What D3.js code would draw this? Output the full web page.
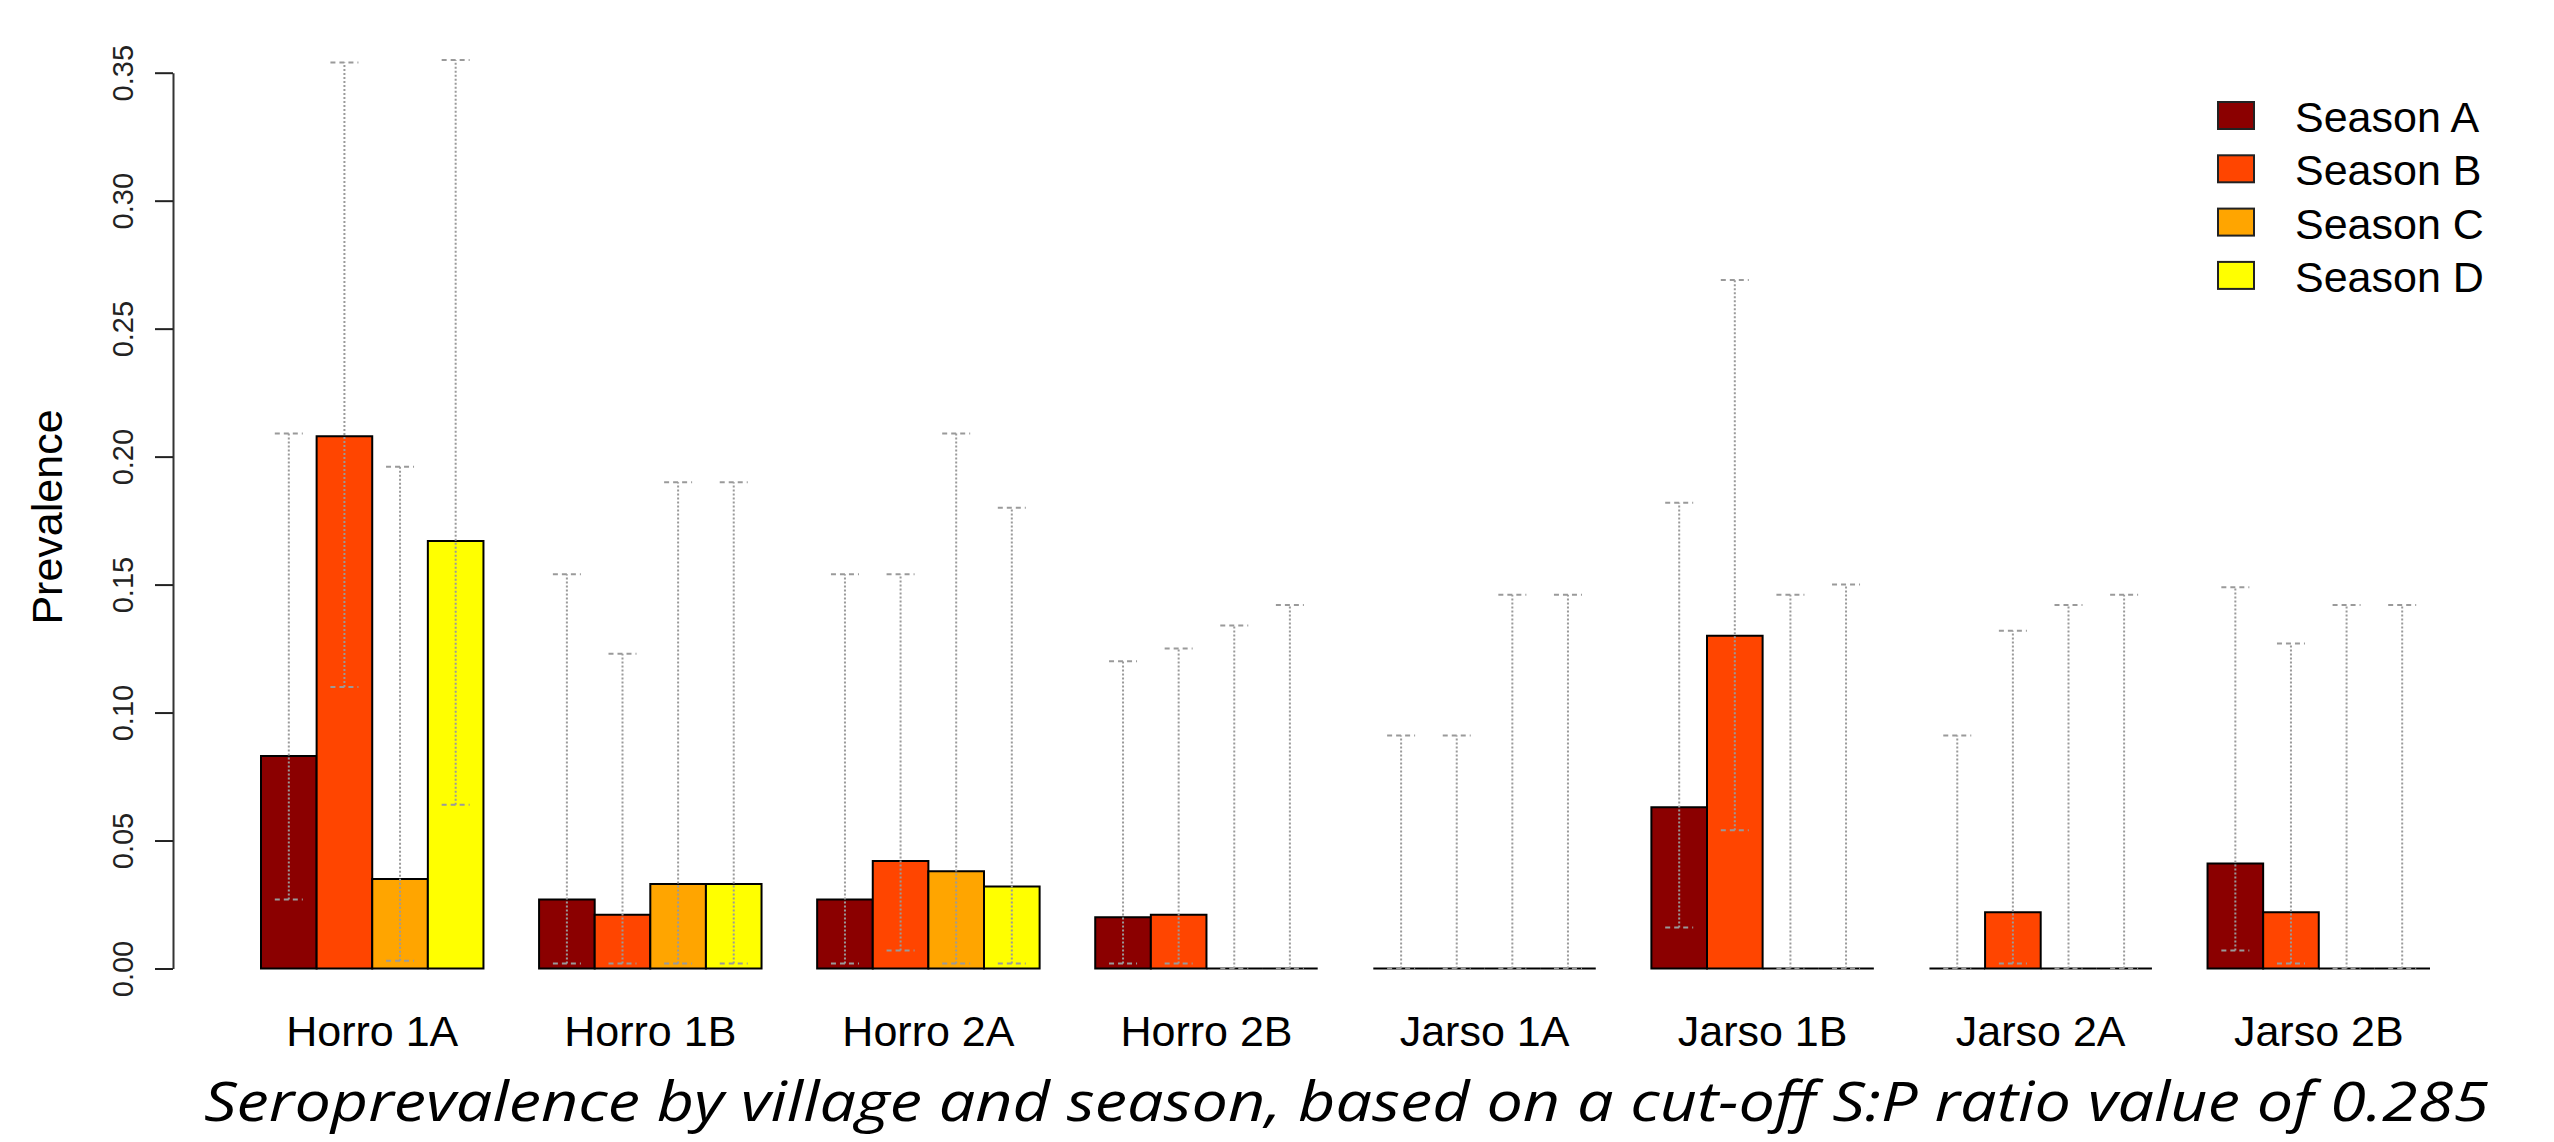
<!DOCTYPE html>
<html>
<head>
<meta charset="utf-8">
<script src="https://cdn.jsdelivr.net/npm/d3@7"></script>
<style>
  html, body { margin: 0; padding: 0; background: #ffffff; }
  svg { display: block; }
</style>
</head>
<body>
<svg id="chart" width="2554" height="1142"></svg>
<script>
// Villages (groups) and seasons (bars within each group)
const categories = ["Horro 1A", "Horro 1B", "Horro 2A", "Horro 2B", "Jarso 1A", "Jarso 1B", "Jarso 2A", "Jarso 2B"];
const seasons = ["Season A", "Season B", "Season C", "Season D"];
const seasonColors = ["#8B0000", "#FF4500", "#FFA500", "#FFFF00"];

// Seroprevalence per season, one entry per village
const prevA = [0.083, 0.027, 0.027, 0.020, 0, 0.063, 0, 0.041];
const prevB = [0.208, 0.021, 0.042, 0.021, 0, 0.130, 0.022, 0.022];
const prevC = [0.035, 0.033, 0.038, 0, 0, 0, 0, 0];
const prevD = [0.167, 0.033, 0.032, 0, 0, 0, 0, 0];

// 95% confidence limits
const lowerA = [0.027, 0.002, 0.002, 0.002, 0, 0.016, 0, 0.007];
const lowerB = [0.110, 0.002, 0.007, 0.002, 0, 0.054, 0.002, 0.002];
const lowerC = [0.003, 0.002, 0.002, 0, 0, 0, 0, 0];
const lowerD = [0.064, 0.002, 0.002, 0, 0, 0, 0, 0];
const upperA = [0.209, 0.154, 0.154, 0.120, 0.091, 0.182, 0.091, 0.149];
const upperB = [0.354, 0.123, 0.154, 0.125, 0.091, 0.269, 0.132, 0.127];
const upperC = [0.196, 0.190, 0.209, 0.134, 0.146, 0.146, 0.142, 0.142];
const upperD = [0.355, 0.190, 0.180, 0.142, 0.146, 0.150, 0.146, 0.142];

const yTicks = [0, 0.05, 0.10, 0.15, 0.20, 0.25, 0.30, 0.35];
const yLabel = "Prevalence";
const caption = "Seroprevalence by village and season, based on a cut-off S:P ratio value of 0.285";

const prevBySeason = [prevA, prevB, prevC, prevD];
const lowerBySeason = [lowerA, lowerB, lowerC, lowerD];
const upperBySeason = [upperA, upperB, upperC, upperD];

const rows = [];
categories.forEach((cat, i) => {
  seasons.forEach((s, j) => {
    rows.push({
      cat, season: s, si: j,
      value: prevBySeason[j][i],
      lo: lowerBySeason[j][i],
      hi: upperBySeason[j][i]
    });
  });
});

const svg = d3.select("#chart");
const font = "'Liberation Sans', Arial, sans-serif";

// Scales
const x0 = d3.scaleBand().domain(categories).range([261, 2430]).paddingInner(0.2).paddingOuter(0);
const x1 = d3.scaleBand().domain(seasons).range([0, x0.bandwidth()]).padding(0);
const y = d3.scaleLinear().domain([0, 0.35]).range([968.5, 72.7]);
const color = d3.scaleOrdinal().domain(seasons).range(seasonColors);

// Bars (drawn as closed paths so zero-height bars still show their outline)
svg.append("g")
  .selectAll("path.bar")
  .data(rows)
  .join("path")
  .attr("class", "bar")
  .attr("d", d => {
    const bx = x0(d.cat) + x1(d.season);
    const w = x1.bandwidth();
    const top = y(d.value), base = y(0);
    return `M${bx},${base}L${bx + w},${base}L${bx + w},${top}L${bx},${top}Z`;
  })
  .attr("fill", d => color(d.season))
  .attr("stroke", "#000")
  .attr("stroke-width", 2)
  .attr("stroke-linejoin", "miter");

// Confidence interval whiskers
const capHalf = 14;
const ci = svg.append("g").attr("stroke", "#9a9a9a").attr("stroke-width", 2).attr("fill", "none");
const cx = d => x0(d.cat) + x1(d.season) + x1.bandwidth() / 2;
ci.selectAll("line.stem")
  .data(rows)
  .join("line")
  .attr("class", "stem")
  .attr("x1", cx).attr("x2", cx)
  .attr("y1", d => y(d.lo)).attr("y2", d => y(d.hi))
  .attr("stroke-dasharray", "2,2");
ci.selectAll("line.capHi")
  .data(rows)
  .join("line")
  .attr("class", "capHi")
  .attr("x1", d => cx(d) - capHalf).attr("x2", d => cx(d) + capHalf)
  .attr("y1", d => y(d.hi)).attr("y2", d => y(d.hi))
  .attr("stroke-dasharray", "5,4");
ci.selectAll("line.capLo")
  .data(rows)
  .join("line")
  .attr("class", "capLo")
  .attr("x1", d => cx(d) - capHalf).attr("x2", d => cx(d) + capHalf)
  .attr("y1", d => y(d.lo)).attr("y2", d => y(d.lo))
  .attr("stroke-dasharray", "5,4");

// Y axis
const axisX = 173;
const yAxis = svg.append("g")
  .attr("transform", `translate(${axisX},0)`)
  .call(d3.axisLeft(y).tickValues(yTicks).tickFormat(d3.format(".2f")).tickSize(18).tickSizeOuter(0));
yAxis.select(".domain").attr("stroke", "#333").attr("stroke-width", 2);
yAxis.selectAll(".tick line").attr("stroke", "#222").attr("stroke-width", 2);
yAxis.selectAll(".tick text")
  .attr("x", null).attr("dy", null)
  .attr("transform", "translate(-40,0) rotate(-90)")
  .attr("text-anchor", "middle")
  .attr("font-family", font)
  .attr("font-size", 29)
  .attr("fill", "#222");

// Y axis title
svg.append("text")
  .attr("transform", "translate(62,517) rotate(-90)")
  .attr("text-anchor", "middle")
  .attr("font-family", font)
  .attr("font-size", 43)
  .attr("fill", "#000")
  .text(yLabel);

// Village labels
svg.append("g")
  .selectAll("text")
  .data(categories)
  .join("text")
  .attr("x", d => x0(d) + x0.bandwidth() / 2)
  .attr("y", 1046)
  .attr("text-anchor", "middle")
  .attr("font-family", font)
  .attr("font-size", 43)
  .attr("fill", "#000")
  .text(d => d);

// Legend
const legend = svg.append("g");
const legRows = legend.selectAll("g")
  .data(seasons)
  .join("g")
  .attr("transform", (d, i) => `translate(0,${i * 53.3})`);
legRows.append("rect")
  .attr("x", 2218).attr("y", 102)
  .attr("width", 36).attr("height", 27)
  .attr("fill", d => color(d))
  .attr("stroke", "#222").attr("stroke-width", 2);
legRows.append("text")
  .attr("x", 2295).attr("y", 132)
  .attr("font-family", font)
  .attr("font-size", 43)
  .attr("fill", "#000")
  .text(d => d);

// Caption
svg.append("text")
  .attr("x", 204).attr("y", 1121)
  .attr("font-family", "'Open Sans', 'Noto Sans', sans-serif")
  .attr("font-style", "italic")
  .attr("font-size", 54)
  .attr("textLength", 2285)
  .attr("lengthAdjust", "spacingAndGlyphs")
  .attr("fill", "#000")
  .text(caption);
</script>
</body>
</html>
